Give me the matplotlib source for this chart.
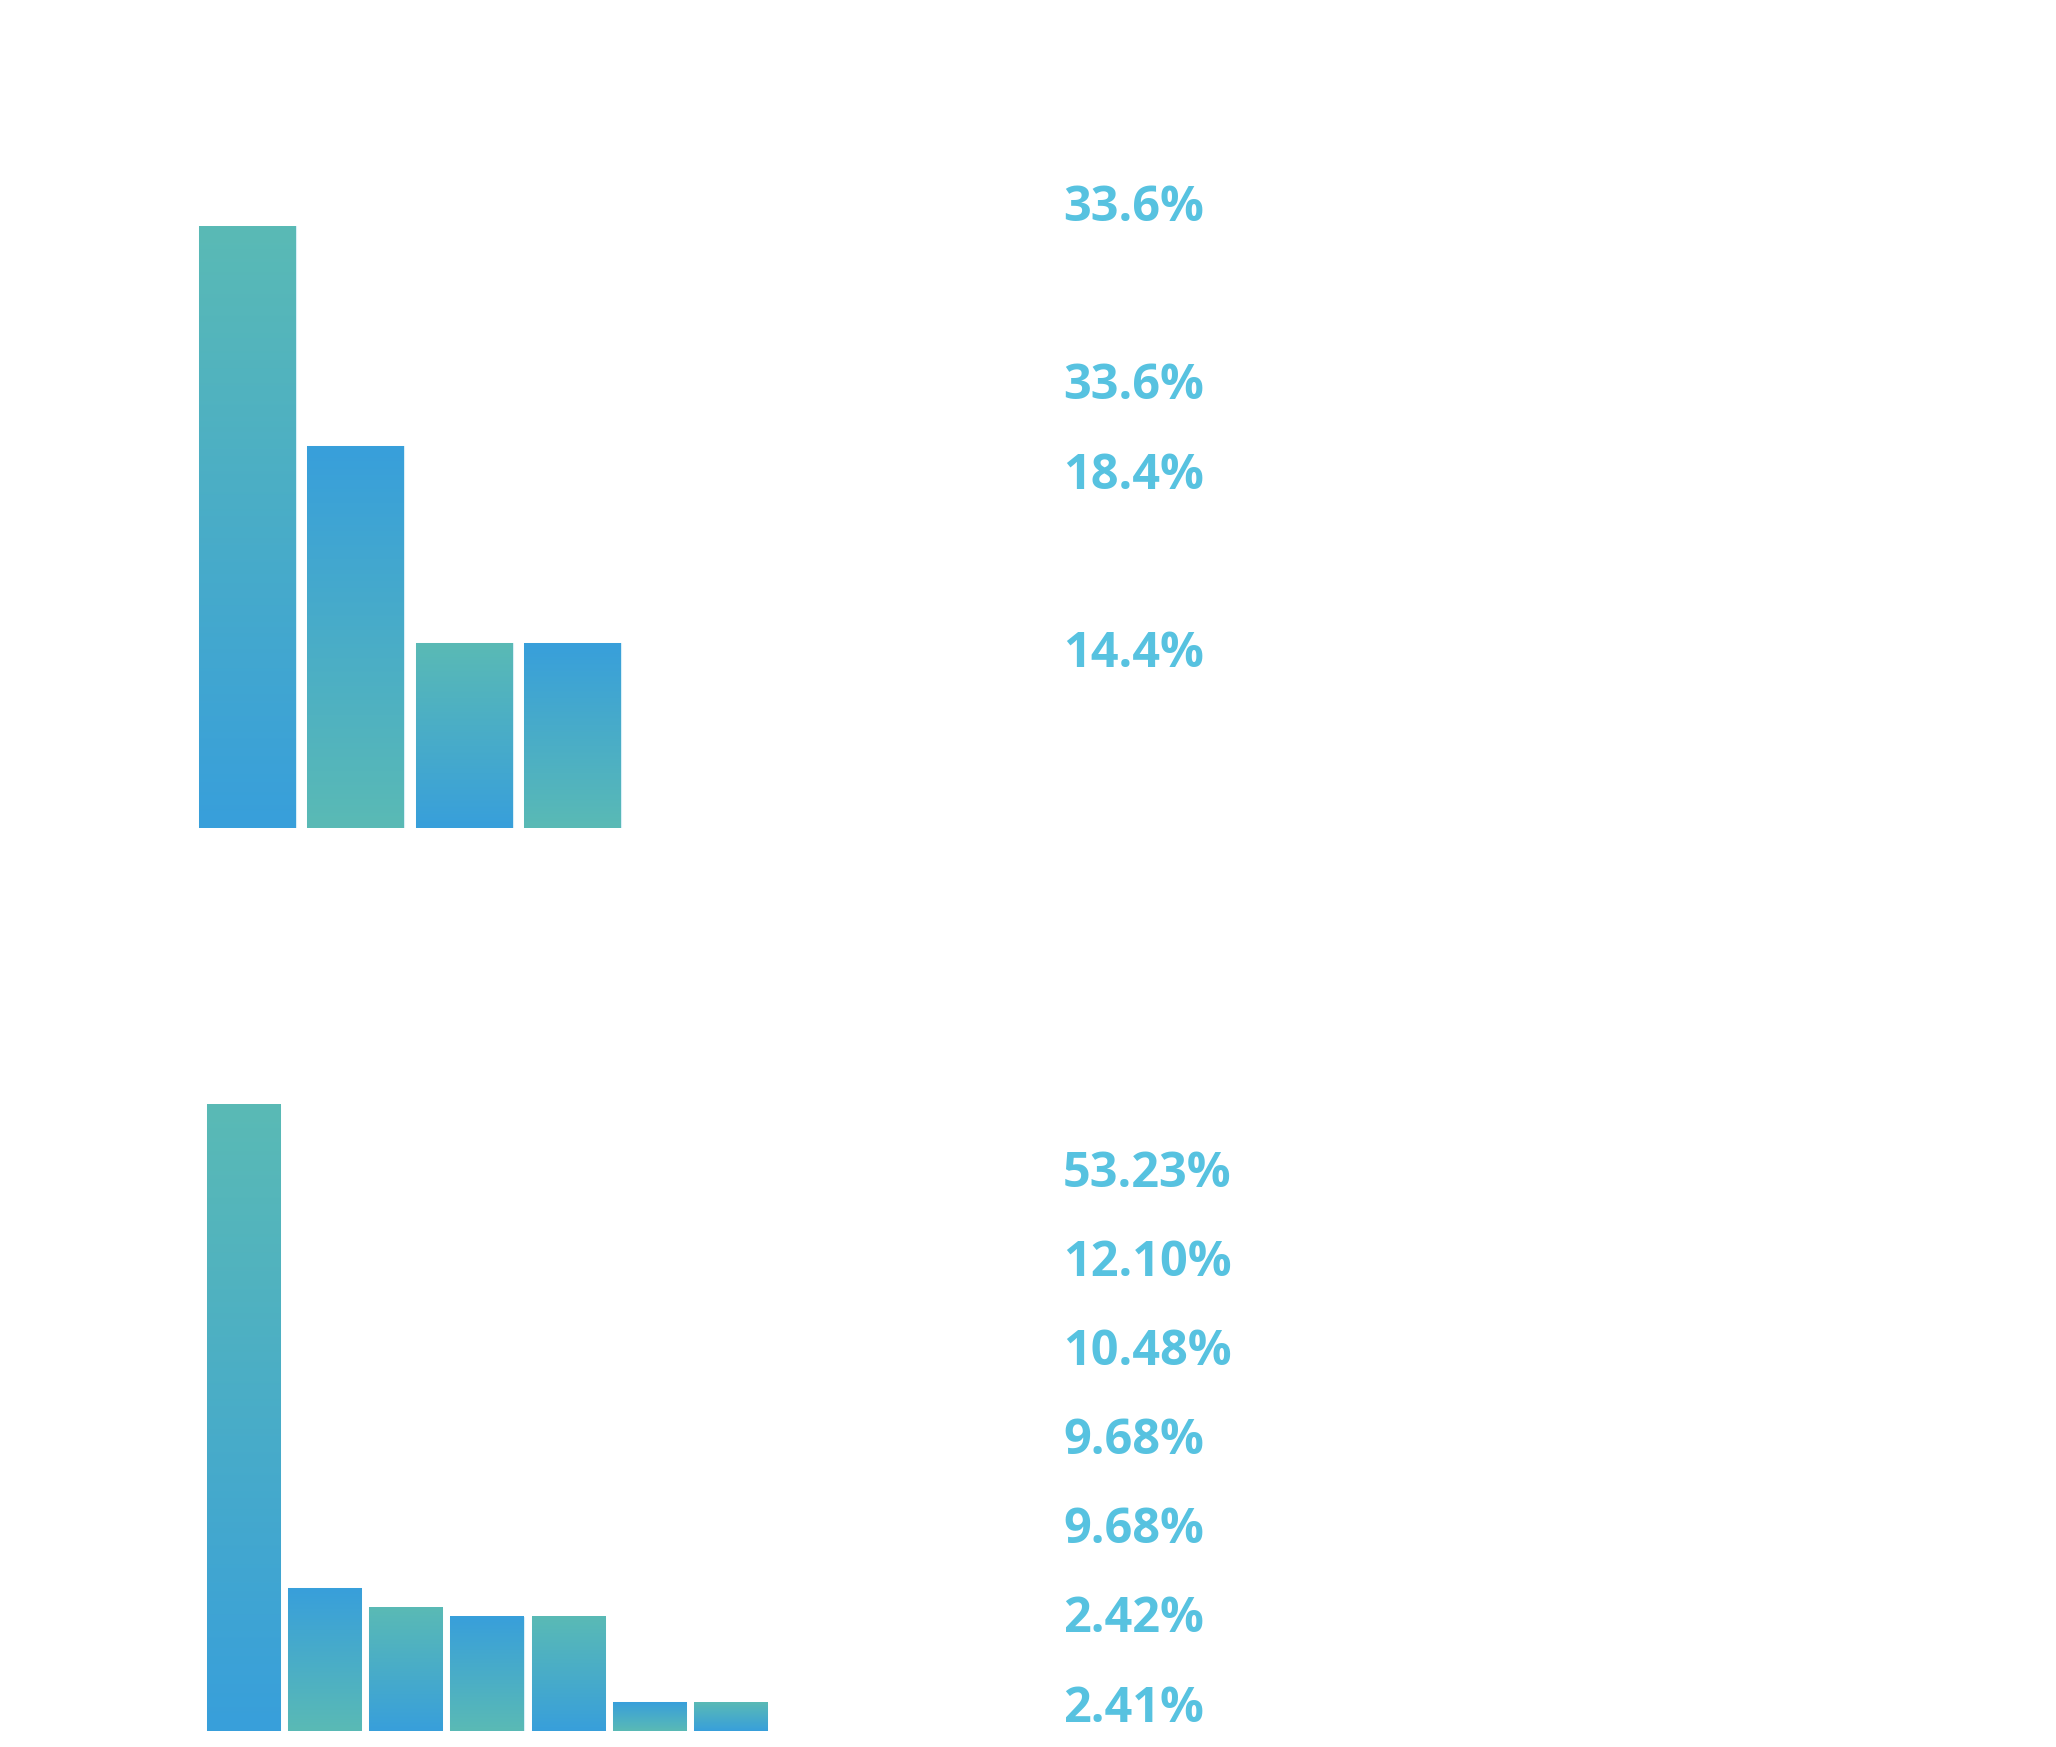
import numpy as np
import matplotlib
matplotlib.use('Agg')
from matplotlib import pyplot as plt
from matplotlib.colors import LinearSegmentedColormap

plt.rcParams['font.family'] = ['Open Sans', 'DejaVu Sans']

# top chart
top_bars = [33.6, 21.3, 10.3, 10.3]
top_labels = ['33.6%', '', '33.6%', '18.4%', '', '14.4%']

# bottom chart
bot_bars = [53.23, 12.10, 10.48, 9.68, 9.68, 2.42, 2.41]
bot_labels = ['53.23%', '12.10%', '10.48%', '9.68%', '9.68%', '2.42%', '2.41%']

TEAL = '#5ABAB5'
BLUE = '#389FDB'
TXT = '#57C2E0'

W, H = 2056, 1747
fig = plt.figure(figsize=(W/100, H/100), dpi=100)

cmap = LinearSegmentedColormap.from_list('tb', [BLUE, TEAL])  # 0 bottom -> 1 top
grad = np.linspace(0, 1, 256).reshape(-1, 1)


def px_axes(left, right, bottom, top):
    return fig.add_axes([left/W, 1-bottom/H, (right-left)/W, (bottom-top)/H])


def gradient_bars(ax, vals, width):
    n = len(vals)
    bars = ax.bar(np.arange(n), vals, width=width, color='none',
                  edgecolor='#D8EEF7', linewidth=0.8)
    for i, b in enumerate(bars):
        x, y = b.get_x(), b.get_y()
        w, h = b.get_width(), b.get_height()
        g = grad if i % 2 == 0 else grad[::-1]
        # origin lower: row 0 at bottom
        ax.imshow(g, extent=[x, x+w, y, y+h], origin='lower', aspect='auto',
                  cmap=cmap, vmin=0, vmax=1, zorder=1, interpolation='bilinear')
    ax.set_xlim(-0.5, n-0.5)
    ax.set_ylim(0, max(vals))
    ax.axis('off')


ax1 = px_axes(193.3, 626.7, 828, 226)
gradient_bars(ax1, top_bars, 0.895)

ax2 = px_axes(202.9, 771.1, 1731, 1104)
gradient_bars(ax2, bot_bars, 0.9)

# label column
for k, t in enumerate(top_labels):
    if t:
        fig.text(1063/W, 1-(221 + 89.2*k)/H, t, color=TXT, fontsize=35,
                 fontweight='bold', ha='left', va='baseline')
for k, t in enumerate(bot_labels):
    fig.text(1063/W, 1-(1187 + 89.1*k)/H, t, color=TXT, fontsize=35,
             fontweight='bold', ha='left', va='baseline')

fig.savefig('out.png', dpi=100, facecolor='white')
